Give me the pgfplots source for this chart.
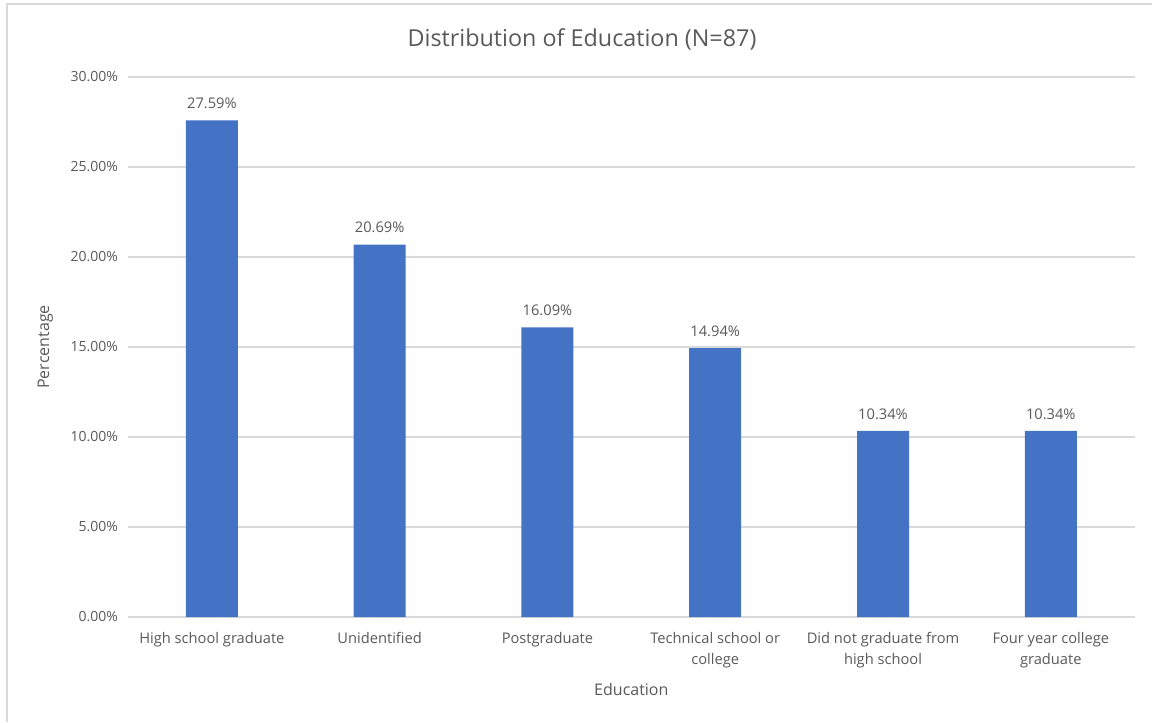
\documentclass[border=0pt]{standalone}
\usepackage{pgfplots}
\pgfplotsset{compat=1.18}
\usepackage{fontspec}
\setmainfont{Open Sans}
\definecolor{barblue}{HTML}{4472C4}
\definecolor{gridgray}{HTML}{D9D9D9}
\definecolor{txtgray}{HTML}{595959}
\definecolor{framegray}{HTML}{D9D9D9}
\begin{document}
\begin{tikzpicture}
\useasboundingbox (0,0) rectangle (864pt,541.5pt);
\draw[framegray, line width=1.2pt] (5.25pt,0) -- (5.25pt,538.5pt) -- (864pt,538.5pt);
\begin{axis}[
  at={(96pt,78.75pt)}, anchor=south west,
  scale only axis,
  width=755pt, height=405pt,
  ybar, bar width=39pt,
  xmin=-0.5, xmax=5.5,
  ymin=0, ymax=30,
  xtick=data,
  xticklabels={High school graduate, Unidentified, Postgraduate,
    {Technical school or\\college}, {Did not graduate from\\high school},
    {Four year college\\graduate}},
  xticklabel style={align=center, font=\fontsize{11}{15.5}\selectfont, text=txtgray, yshift=-8pt},
  ytick={0,5,...,30},
  yticklabel={\pgfmathprintnumber[fixed,fixed zerofill,precision=2]{\tick}\%},
  yticklabel style={font=\fontsize{10.5}{12}\selectfont, text=txtgray, xshift=-4pt},
  /pgf/number format/assume math mode=true,
  major tick length=0pt,
  ymajorgrids, grid style={gridgray, line width=0.8pt},
  axis x line*=bottom, axis y line*=left,
  x axis line style={gridgray, line width=0.8pt, -},
  y axis line style={draw=none},
  title={Distribution of Education (N=87)},
  title style={at={(axis description cs:0.451,1)}, anchor=center, yshift=22pt,
    font=\fontsize{17.5}{20}\selectfont, text=txtgray},
  xlabel={Education},
  xlabel style={at={(axis description cs:0.5,0)}, anchor=center, yshift=-54pt,
    font=\fontsize{12}{14}\selectfont, text=txtgray},
  ylabel={Percentage},
  ylabel style={at={(axis description cs:0,0.5)}, anchor=center, yshift=62pt,
    font=\fontsize{12}{14}\selectfont, text=txtgray},
  nodes near coords={\pgfmathprintnumber[fixed,fixed zerofill,precision=2]{\pgfplotspointmeta}\%},
  nodes near coords style={font=\fontsize{11}{13}\selectfont, text=txtgray, /pgf/number format/assume math mode=true, yshift=5pt},
]
\addplot[fill=barblue, draw=none] coordinates {
  (0,27.59) (1,20.69) (2,16.09) (3,14.94) (4,10.34) (5,10.34)
};
\end{axis}
\end{tikzpicture}
\end{document}
